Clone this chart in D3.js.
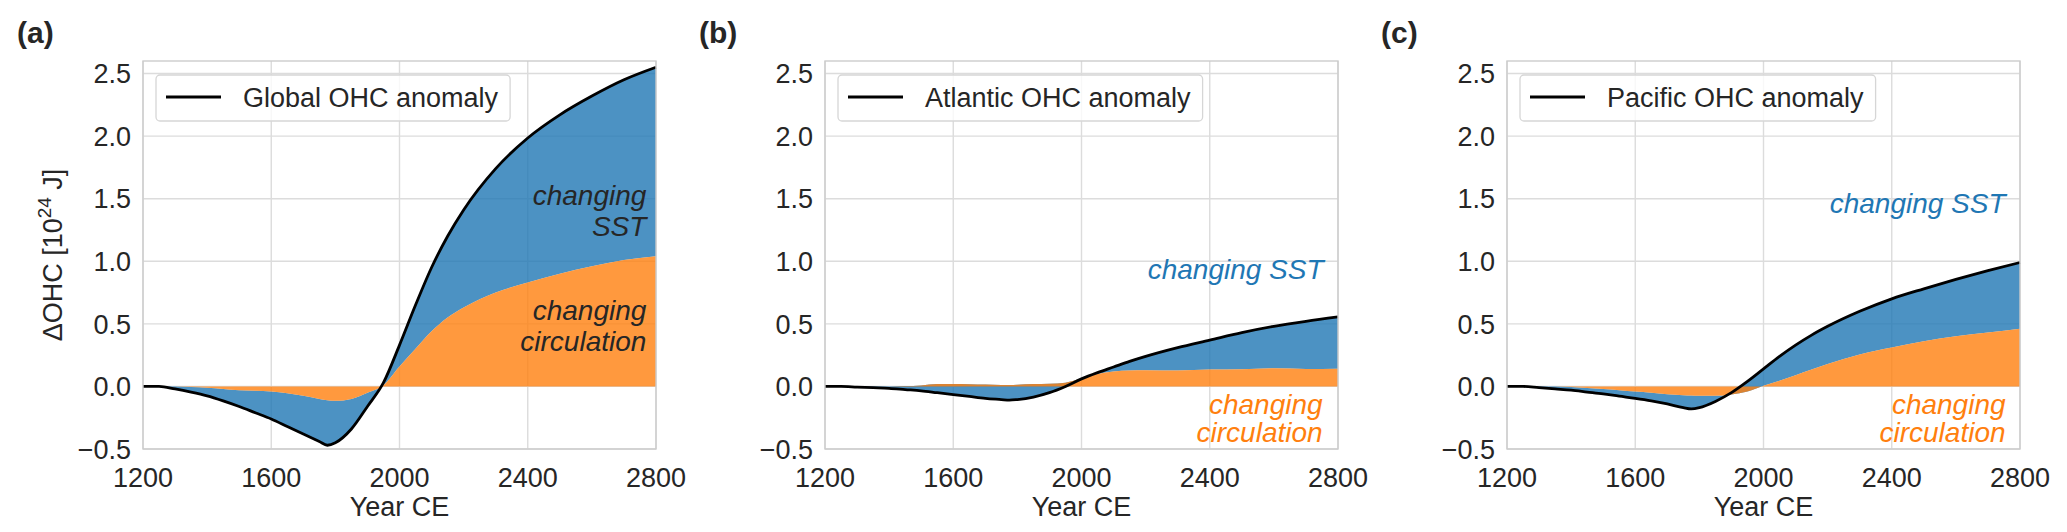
<!DOCTYPE html>
<html>
<head>
<meta charset="utf-8">
<style>
  body { margin: 0; background: #fff; }
  svg text { font-family: "Liberation Sans", Arial, sans-serif; fill: #262626; }
</style>
</head>
<body>
<script src="https://cdn.jsdelivr.net/npm/d3@7"></script>
<script>
// years shared by all series
var years = [1200, 1250, 1300, 1350, 1400, 1450, 1500, 1550, 1600, 1650, 1700, 1750, 1775, 1800,
             1850, 1900, 1950, 2000, 2050, 2100, 2150, 2200, 2300, 2400, 2500, 2600, 2700, 2800];

// OHC anomaly [1e24 J], total and circulation part
var globalTotal   = [0, 0, -0.02, -0.045, -0.075, -0.115, -0.16, -0.21, -0.26, -0.32, -0.38, -0.44, -0.47, -0.45,
                     -0.34, -0.16, 0.03, 0.33, 0.65, 0.95, 1.2, 1.41, 1.74, 1.985, 2.17, 2.32, 2.45, 2.55];
var globalCirc    = [0, 0, 0, -0.005, -0.01, -0.02, -0.03, -0.035, -0.04, -0.055, -0.075, -0.1, -0.11, -0.115,
                     -0.1, -0.05, 0.01, 0.16, 0.3, 0.44, 0.55, 0.63, 0.75, 0.83, 0.9, 0.96, 1.01, 1.04];
var atlanticTotal = [0, 0, -0.005, -0.01, -0.015, -0.025, -0.035, -0.05, -0.065, -0.08, -0.095, -0.105, -0.11, -0.105,
                     -0.085, -0.05, 0.0, 0.06, 0.11, 0.155, 0.2, 0.24, 0.31, 0.37, 0.43, 0.48, 0.52, 0.555];
var atlanticCirc  = [0, 0, 0, 0, 0, 0.003, 0.008, 0.02, 0.02, 0.018, 0.015, 0.012, 0.012, 0.014,
                     0.02, 0.022, 0.03, 0.065, 0.1, 0.12, 0.128, 0.13, 0.128, 0.135, 0.138, 0.145, 0.14, 0.142];
var pacificTotal  = [0, 0, -0.01, -0.02, -0.03, -0.045, -0.06, -0.078, -0.095, -0.115, -0.14, -0.17, -0.18, -0.17,
                     -0.12, -0.05, 0.04, 0.14, 0.24, 0.33, 0.41, 0.48, 0.6, 0.7, 0.78, 0.855, 0.925, 0.99];
var pacificCirc   = [0, 0, 0, 0, -0.005, -0.012, -0.02, -0.03, -0.04, -0.05, -0.062, -0.07, -0.073, -0.075,
                     -0.075, -0.065, -0.04, 0.005, 0.045, 0.09, 0.135, 0.18, 0.255, 0.31, 0.36, 0.4, 0.43, 0.46];

var xTicks = [1200, 1600, 2000, 2400, 2800];
var yTicks = [-0.5, 0.0, 0.5, 1.0, 1.5, 2.0, 2.5];
var panelLabels = ["(a)", "(b)", "(c)"];
var legendLabels = ["Global OHC anomaly", "Atlantic OHC anomaly", "Pacific OHC anomaly"];

var width = 2067, height = 532;
var plotTop = 61, plotBottom = 449, plotW = 513;
var lefts = [143, 825, 1507];

var blue = "#1f77b4", orange = "#ff7f0e";

var panels = [
  {total: globalTotal, circ: globalCirc,
   notes: [{t: "changing", yr: 2770, v: 1.45, c: "#262626"}, {t: "SST", yr: 2770, v: 1.20, c: "#262626"},
           {t: "changing", yr: 2770, v: 0.53, c: "#262626"}, {t: "circulation", yr: 2770, v: 0.285, c: "#262626"}]},
  {total: atlanticTotal, circ: atlanticCirc,
   notes: [{t: "changing SST", yr: 2755, v: 0.86, c: blue},
           {t: "changing", yr: 2752, v: -0.217, c: orange}, {t: "circulation", yr: 2752, v: -0.448, c: orange}]},
  {total: pacificTotal, circ: pacificCirc,
   notes: [{t: "changing SST", yr: 2755, v: 1.386, c: blue},
           {t: "changing", yr: 2755, v: -0.217, c: orange}, {t: "circulation", yr: 2755, v: -0.448, c: orange}]}
];

var svg = d3.select("body").append("svg")
    .attr("width", width)
    .attr("height", height);

var y = d3.scaleLinear().domain([-0.5, 2.6]).range([plotBottom, plotTop]);

panels.forEach(function(p, i) {
  var left = lefts[i];
  var x = d3.scaleLinear().domain([1200, 2800]).range([left, left + plotW]);
  var g = svg.append("g");

  // grid
  g.append("g").selectAll("line").data(xTicks).join("line")
      .attr("x1", d => x(d)).attr("x2", d => x(d))
      .attr("y1", plotTop).attr("y2", plotBottom)
      .attr("stroke", "#dcdcdc").attr("stroke-width", 1.4);
  g.append("g").selectAll("line").data(yTicks).join("line")
      .attr("x1", left).attr("x2", left + plotW)
      .attr("y1", d => y(d)).attr("y2", d => y(d))
      .attr("stroke", "#dcdcdc").attr("stroke-width", 1.4);

  var rows = years.map((yr, k) => ({yr: yr, total: p.total[k], circ: p.circ[k]}));

  var blueArea = d3.area().curve(d3.curveMonotoneX)
      .x(d => x(d.yr)).y0(d => y(d.circ)).y1(d => y(d.total));
  var orangeArea = d3.area().curve(d3.curveMonotoneX)
      .x(d => x(d.yr)).y0(y(0)).y1(d => y(d.circ));
  var line = d3.line().curve(d3.curveMonotoneX)
      .x(d => x(d.yr)).y(d => y(d.total));

  g.append("path").datum(rows).attr("d", blueArea).attr("fill", blue).attr("fill-opacity", 0.8);
  g.append("path").datum(rows).attr("d", orangeArea).attr("fill", orange).attr("fill-opacity", 0.8);
  g.append("path").datum(rows).attr("d", line)
      .attr("fill", "none").attr("stroke", "#000").attr("stroke-width", 2.8);

  // frame
  g.append("rect").attr("x", left).attr("y", plotTop).attr("width", plotW).attr("height", plotBottom - plotTop)
      .attr("fill", "none").attr("stroke", "#cccccc").attr("stroke-width", 1.4);

  // tick labels
  g.append("g").selectAll("text").data(xTicks).join("text")
      .attr("x", d => x(d)).attr("y", 487)
      .attr("text-anchor", "middle").attr("font-size", 27)
      .text(d => d);
  g.append("g").selectAll("text").data(yTicks).join("text")
      .attr("x", left - 12).attr("y", d => y(d)).attr("dy", "0.36em")
      .attr("text-anchor", "end").attr("font-size", 27)
      .text(d => d3.format(".1f")(d));

  g.append("text").attr("x", left + plotW / 2).attr("y", 516)
      .attr("text-anchor", "middle").attr("font-size", 27).text("Year CE");

  g.append("text").attr("x", left - 126).attr("y", 43)
      .attr("font-size", 30).attr("font-weight", "bold").text(panelLabels[i]);

  // annotations
  g.append("g").selectAll("text").data(p.notes).join("text")
      .attr("x", d => x(d.yr)).attr("y", d => y(d.v))
      .attr("text-anchor", "end").attr("font-size", 28).attr("font-style", "italic")
      .style("fill", d => d.c)
      .text(d => d.t);

  // legend
  var lg = g.append("g");
  var box = lg.append("rect").attr("x", left + 13).attr("y", 75).attr("height", 46).attr("rx", 4)
      .attr("fill", "#fff").attr("fill-opacity", 0.8).attr("stroke", "#d6d6d6").attr("stroke-width", 1.3);
  lg.append("line").attr("x1", left + 23).attr("x2", left + 78).attr("y1", 97).attr("y2", 97)
      .attr("stroke", "#000").attr("stroke-width", 2.8);
  var lt = lg.append("text").attr("x", left + 100).attr("y", 97).attr("dy", "0.36em")
      .attr("font-size", 27).text(legendLabels[i]);
  box.attr("width", lt.node().getComputedTextLength() + 100 - 13 + 12);
});

// y axis label
var yl = svg.append("text")
    .attr("transform", "translate(62," + ((plotTop + plotBottom) / 2) + ") rotate(-90)")
    .attr("text-anchor", "middle").attr("font-size", 27);
yl.append("tspan").text("ΔOHC [10");
yl.append("tspan").attr("font-size", 19).attr("dy", -11).text("24");
yl.append("tspan").attr("dy", 11).text("  J]");
</script>
</body>
</html>
